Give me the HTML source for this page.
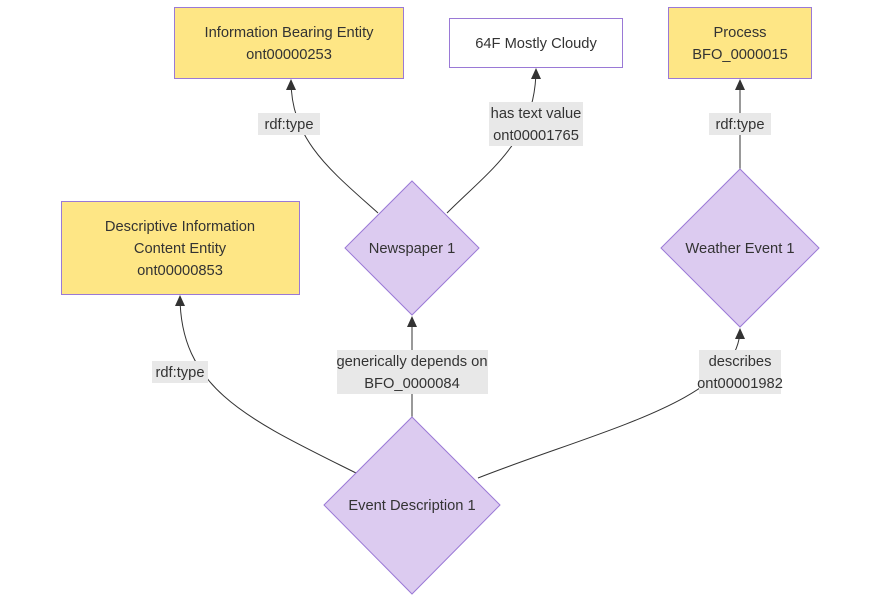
<!DOCTYPE html>
<html><head><meta charset="utf-8">
<style>
html,body{margin:0;padding:0;background:#fff;}
svg{display:block;font-family:"Liberation Sans",sans-serif;font-size:14.7px;}
.y{fill:#fee685;stroke:#9a79d6;stroke-width:1;}
.w{fill:#fff;stroke:#9a79d6;stroke-width:1;}
.d{fill:#dccbf0;stroke:#9a79d6;stroke-width:1;}
.e{fill:none;stroke:#333;stroke-width:1;}
.lb{fill:#e8e8e8;}
text{fill:#333;text-anchor:middle;}
</style></head><body>
<svg width="880" height="602" viewBox="0 0 880 602">
<!-- edges -->
<path class="e" d="M378,213 C330,170 291,140 291,80"/>
<path class="e" d="M447,213 C490,170 536,140 536,69"/>
<path class="e" d="M740,169 L740,80"/>
<path class="e" d="M356,473 C250,420 180,390 180,296"/>
<path class="e" d="M412,417 L412,317"/>
<path class="e" d="M478,478 C600,430 740,400 740,329"/>
<g fill="#333">
<path d="M286,90 L296,90 L291,79 z"/>
<path d="M531,79 L541,79 L536,68 z"/>
<path d="M735,90 L745,90 L740,79 z"/>
<path d="M175,306 L185,306 L180,295 z"/>
<path d="M407,327 L417,327 L412,316 z"/>
<path d="M735,339 L745,339 L740,328 z"/>
</g>
<!-- nodes -->
<rect class="y" x="174.5" y="7.5" width="229" height="71"/>
<text x="289" y="37">Information Bearing Entity</text>
<text x="289" y="59">ont00000253</text>
<rect class="w" x="449.5" y="18.5" width="173" height="49"/>
<text x="536" y="48">64F Mostly Cloudy</text>
<rect class="y" x="668.5" y="7.5" width="143" height="71"/>
<text x="740" y="37">Process</text>
<text x="740" y="59">BFO_0000015</text>
<rect class="y" x="61.5" y="201.5" width="238" height="93"/>
<text x="180" y="231">Descriptive Information</text>
<text x="180" y="253">Content Entity</text>
<text x="180" y="275">ont00000853</text>
<path class="d" d="M412,181 L479,248 L412,315 L345,248 z"/>
<text x="412" y="253">Newspaper 1</text>
<path class="d" d="M740,169 L819,248 L740,327 L661,248 z"/>
<text x="740" y="253">Weather Event 1</text>
<path class="d" d="M412,417 L500,505 L412,594 L324,505 z"/>
<text x="412" y="510">Event Description 1</text>
<!-- labels -->
<rect class="lb" x="258" y="113" width="62" height="22"/>
<text x="289" y="129">rdf:type</text>
<rect class="lb" x="489" y="102" width="94" height="44"/>
<text x="536" y="118">has text value</text>
<text x="536" y="140">ont00001765</text>
<rect class="lb" x="709" y="113" width="62" height="22"/>
<text x="740" y="129">rdf:type</text>
<rect class="lb" x="152" y="361" width="56" height="22"/>
<text x="180" y="377">rdf:type</text>
<rect class="lb" x="337" y="350" width="151" height="44"/>
<text x="412" y="366">generically depends on</text>
<text x="412" y="388">BFO_0000084</text>
<rect class="lb" x="699" y="350" width="82" height="44"/>
<text x="740" y="366">describes</text>
<text x="740" y="388">ont00001982</text>
</svg>
</body></html>
